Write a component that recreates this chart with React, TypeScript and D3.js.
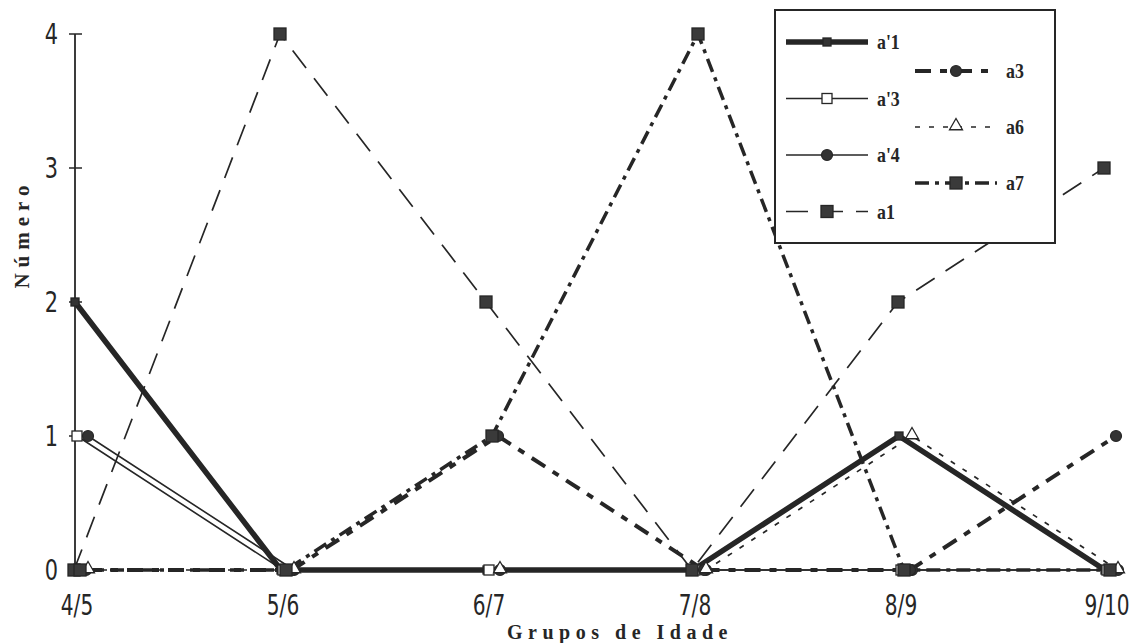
import React, { useRef, useEffect } from 'react';
import * as d3 from 'd3';

const categories = ['4/5', '5/6', '6/7', '7/8', '8/9', '9/10'];
const yTicks = [0, 1, 2, 3, 4];

const seriesNames = ["a'1", "a'3", "a'4", 'a1', 'a3', 'a6', 'a7'];
const valsA1p = [2, 0, 0, 0, 1, 0];
const valsA3p = [1, 0, 0, 0, 0, 0];
const valsA4p = [1, 0, 0, 0, 0, 0];
const valsA1 = [0, 4, 2, 0, 2, 3];
const valsA3 = [0, 0, 1, 0, 0, 1];
const valsA6 = [0, 0, 0, 0, 1, 0];
const valsA7 = [0, 0, 1, 4, 0, 0];

const seriesValues = [valsA1p, valsA3p, valsA4p, valsA1, valsA3, valsA6, valsA7];

// styles per series: stroke width, dash pattern, marker kind, marker size, small x nudge
const styles = {
  "a'1": { sw: 5.5, dash: null, marker: 'square', size: 8, fill: '#333', dx: -2 },
  "a'3": { sw: 1.6, dash: null, marker: 'square', size: 10, fill: '#fff', dx: 0 },
  "a'4": { sw: 1.6, dash: null, marker: 'circle', size: 11, fill: '#333', dx: 11 },
  a1: { sw: 1.7, dash: '22,13', marker: 'square', size: 12, fill: '#3a3a3a', dx: -3 },
  a3: { sw: 4, dash: '16,9,7,9', marker: 'circle', size: 11, fill: '#333', dx: 9 },
  a6: { sw: 1.7, dash: '5,9', marker: 'triangle', size: 11, fill: '#fff', dx: 11 },
  a7: { sw: 3.5, dash: '14,6,4,6', marker: 'square', size: 12, fill: '#3a3a3a', dx: 3 },
};

const legendLeft = ["a'1", "a'3", "a'4", 'a1'];
const legendRight = ['a3', 'a6', 'a7'];

const INK = '#262626';
const TICK_FONT = '"Liberation Sans Narrow", "DejaVu Sans", sans-serif';

const App = () => {
  const ref = useRef(null);

  useEffect(() => {
    const svg = d3.select(ref.current);
    svg.selectAll('*').remove();

    const x = d3.scalePoint().domain(categories).range([77, 1107]);
    const y = d3.scaleLinear().domain([0, 4]).range([570, 34]);

    const drawMarker = (g, kind, cx, cy, size, fill) => {
      if (kind === 'square') {
        g.append('rect')
          .attr('x', cx - size / 2)
          .attr('y', cy - size / 2)
          .attr('width', size)
          .attr('height', size)
          .attr('fill', fill)
          .attr('stroke', INK)
          .attr('stroke-width', 1.3);
      } else if (kind === 'circle') {
        g.append('circle')
          .attr('cx', cx)
          .attr('cy', cy)
          .attr('r', size / 2)
          .attr('fill', fill)
          .attr('stroke', INK)
          .attr('stroke-width', 1.2);
      } else {
        const sym = d3.symbol().type(d3.symbolTriangle).size(size * size * 0.6);
        g.append('path')
          .attr('d', sym())
          .attr('transform', `translate(${cx},${cy - 1})`)
          .attr('fill', fill)
          .attr('stroke', INK)
          .attr('stroke-width', 1.3);
      }
    };

    // y axis
    const axis = svg.append('g');
    axis.append('line')
      .attr('x1', 75).attr('x2', 75)
      .attr('y1', y(4)).attr('y2', y(0))
      .attr('stroke', INK).attr('stroke-width', 1.8);
    yTicks.forEach((t) => {
      axis.append('line')
        .attr('x1', 69).attr('x2', 82)
        .attr('y1', y(t)).attr('y2', y(t))
        .attr('stroke', INK).attr('stroke-width', 1.5);
      axis.append('text')
        .attr('transform', `translate(58,${y(t) + 10}) scale(0.72,1)`)
        .attr('text-anchor', 'end')
        .style('font-family', TICK_FONT)
        .style('font-size', '29px')
        .attr('fill', INK)
        .text(t);
    });

    categories.forEach((c) => {
      svg.append('text')
        .attr('transform', `translate(${x(c)},615) scale(0.72,1)`)
        .attr('text-anchor', 'middle')
        .style('font-family', TICK_FONT)
        .style('font-size', '28px')
        .attr('fill', INK)
        .text(c);
    });

    // lines
    const plot = svg.append('g');
    seriesNames.forEach((name, i) => {
      const st = styles[name];
      const line = d3.line()
        .x((d, j) => x(categories[j]) + st.dx)
        .y((d) => y(d));
      plot.append('path')
        .datum(seriesValues[i])
        .attr('d', line)
        .attr('fill', 'none')
        .attr('stroke', INK)
        .attr('stroke-width', st.sw)
        .attr('stroke-dasharray', st.dash)
        .attr('stroke-linejoin', 'round');
    });

    // markers
    seriesNames.forEach((name, i) => {
      const st = styles[name];
      seriesValues[i].forEach((v, j) => {
        drawMarker(plot, st.marker, x(categories[j]) + st.dx, y(v), st.size, st.fill);
      });
    });

    // legend
    const lg = svg.append('g');
    lg.append('rect')
      .attr('x', 775).attr('y', 10)
      .attr('width', 280).attr('height', 233)
      .attr('fill', '#fff')
      .attr('stroke', INK).attr('stroke-width', 2);

    const legendItem = (name, x0, yy, labelX) => {
      const st = styles[name];
      lg.append('line')
        .attr('x1', x0).attr('x2', x0 + 82)
        .attr('y1', yy).attr('y2', yy)
        .attr('stroke', INK)
        .attr('stroke-width', st.sw)
        .attr('stroke-dasharray', st.dash);
      drawMarker(lg, st.marker, x0 + 41, yy, st.size, st.fill);
      lg.append('text')
        .attr('transform', `translate(${labelX},${yy + 7}) scale(0.85,1)`)
        .style('font-family', '"Liberation Serif", serif')
        .style('font-weight', 'bold')
        .style('font-size', '21px')
        .attr('fill', INK)
        .text(name);
    };
    legendLeft.forEach((n, k) => legendItem(n, 786, 42 + k * 56.5, 877));
    legendRight.forEach((n, k) => legendItem(n, 915, 71 + k * 56, 1006));

    // axis titles
    svg.append('text')
      .attr('transform', 'translate(29,234) rotate(-90)')
      .attr('text-anchor', 'middle')
      .style('font-family', '"Liberation Serif", serif')
      .style('font-weight', 'bold')
      .style('font-size', '21px')
      .style('letter-spacing', '6px')
      .attr('fill', INK)
      .text('Número');

    svg.append('text')
      .attr('x', 620)
      .attr('y', 639)
      .attr('text-anchor', 'middle')
      .style('font-family', '"Liberation Serif", serif')
      .style('font-weight', 'bold')
      .style('font-size', '20px')
      .style('letter-spacing', '5.5px')
      .attr('fill', INK)
      .text('Grupos de Idade');
  }, []);

  return (
    <svg
      ref={ref}
      width={1137}
      height={643}
      style={{ position: 'absolute', left: 0, top: 0, background: '#fff' }}
    />
  );
};

export default App;
